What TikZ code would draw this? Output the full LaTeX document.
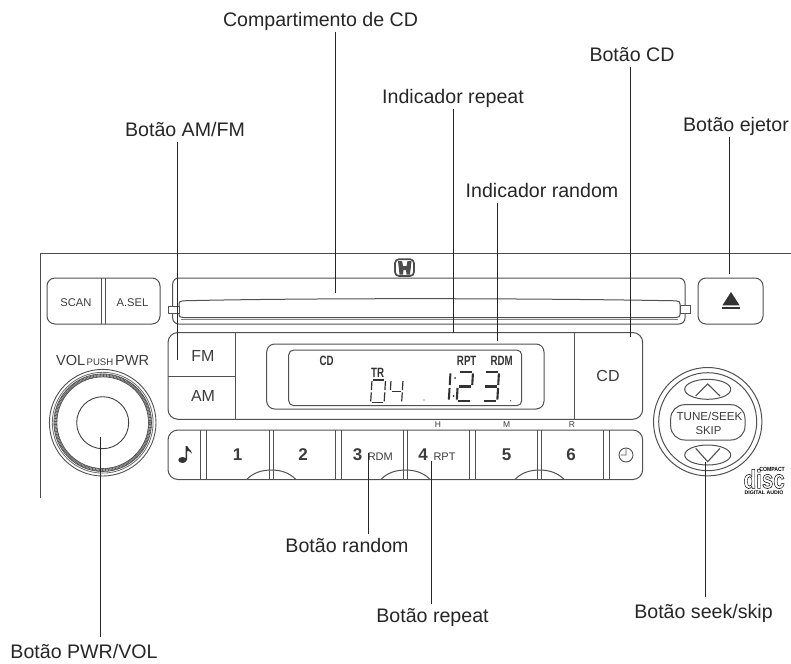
\documentclass[tikz,border=0pt]{standalone}
\usepackage{fontspec}
\setmainfont{Liberation Sans}
\newcommand{\fsz}[1]{\fontsize{#1}{#1}\selectfont}
\def\sgA{(.1,0)--(.9,0)}
\def\sgB{(1,.05)--(1,.45)}
\def\sgC{(1,.55)--(1,.95)}
\def\sgD{(.1,1)--(.9,1)}
\def\sgE{(0,.55)--(0,.95)}
\def\sgF{(0,.05)--(0,.45)}
\def\sgG{(.1,.5)--(.9,.5)}
\newcommand{\sevenseg}[6]{%
  \begin{scope}[shift={(#1,#2)},xslant=.06,xscale=#3,yscale=#4,line width=#5,color=lcd]
    \foreach \s in {#6}{\edef\tmpseg{\noexpand\draw \csname sg\s\endcsname;}\tmpseg}
  \end{scope}}
\definecolor{lcd}{HTML}{333333}
\definecolor{panelc}{HTML}{505050}
\definecolor{txtc}{HTML}{3C3C3C}
\definecolor{labc}{HTML}{262626}
\tikzset{
  panel/.style={draw=panelc,line width=1pt,fill=white},
  pline/.style={draw=panelc,line width=1pt},
  leader/.style={draw=black!85,line width=.95pt},
  toplab/.style={anchor=south,inner sep=0pt,text height=14pt,text depth=5pt,font=\fsz{19.6},text=labc},
  botlab/.style={anchor=north,inner sep=0pt,text height=18pt,text depth=5pt,font=\fsz{19.6},text=labc},
  ptxt/.style={inner sep=0pt,text=txtc},
  lcdtxt/.style={inner sep=0pt,text=lcd,font=\fsz{13.5}\bfseries,xscale=.72,transform shape},
  numb/.style={inner sep=0pt,text=txtc,font=\fsz{17}\bfseries},
}
\begin{document}
\begin{tikzpicture}[x=1pt,y=-1pt]
\useasboundingbox (0,0) rectangle (791,663);
% frame
\draw[draw=black!70,line width=.9pt] (791,253.5) -- (40,253.5) -- (40,498);
% scan / a.sel
\draw[panel,rounded corners=8] (47,278) rectangle (160,324);
\draw[pline] (101.7,278) -- (101.7,324) (105.3,278) -- (105.3,324);
\node[ptxt,font=\fsz{11.2}] (scan) at (76,302.5) {SCAN};
\node[ptxt,font=\fsz{11.2}] (asel) at (132.5,302.5) {A.SEL};
% CD slot
\draw[panel,rounded corners=6] (172.7,278) rectangle (685,324);
\draw[pline,fill=white] (183,300.8) .. controls (300,298) and (520,298) .. (676,300.8)
  .. controls (679,301) and (680,302) .. (680,304) -- (680,314.5)
  .. controls (680,316.5) and (679,317.5) .. (676,317.5) -- (183,317.5)
  .. controls (180,317.5) and (179,316.5) .. (179,314.5) -- (179,304)
  .. controls (179,302) and (180,301) .. (183,300.8) -- cycle;
\draw[draw=panelc!70,line width=.8pt] (181,319) -- (678,319);
\draw[panel] (168.3,306) rectangle (179,313);
\draw[panel] (680,305.5) rectangle (690.3,313);
% eject
\draw[panel,rounded corners=8] (698,278) rectangle (763,324);
\fill[black!80] (731,292) -- (739.6,305.4) -- (722.4,305.4) -- cycle;
\fill[black!80] (722.4,307) rectangle (739.6,308.8);
% honda
\draw[draw=black!70,line width=1.7pt,rounded corners=4] (395,259.2) rectangle (414,276);
\fill[black!70] (398,261) -- (402,261) -- (403,266) -- (406.5,266) -- (407.5,261) -- (411.5,261) -- (410,274.5) -- (406.5,274.5) -- (406,270) -- (403.5,270) -- (403,274.5) -- (399.5,274.5) -- cycle;
% FM/AM/CD block
\draw[panel,rounded corners=10] (168,332.5) rectangle (642.7,419.3);
\draw[pline] (235.7,332.5) -- (235.7,419.3) (168,376.7) -- (235.7,376.7) (574,332.5) -- (574,419.3);
\node[ptxt,font=\fsz{16}] (fm) at (203,356) {FM};
\node[ptxt,font=\fsz{16}] (am) at (203,395.7) {AM};
\node[ptxt,font=\fsz{16}] (cd) at (608,376) {CD};
% display
\draw[panel,rounded corners=8] (266.7,344) rectangle (544,409);
\draw[panel,rounded corners=5] (288.7,350) rectangle (521.7,405.7);
\node[lcdtxt] (d1) at (326.7,361) {CD};
\node[lcdtxt] (d2) at (377.7,372.7) {TR};
\node[lcdtxt] (d3) at (466.7,361) {RPT};
\node[lcdtxt] (d4) at (501.7,361) {RDM};
\sevenseg{372}{380}{13.5}{22.5}{1.2pt}{A,B,C,D,E,F}
\sevenseg{391}{380}{12}{22.5}{1.2pt}{B,C,F,G}
\sevenseg{447.5}{372}{3}{29}{2pt}{B,C}
\fill[lcd] (455,378) circle (1) (453.5,396) circle (1) (424,400) circle (.6) (510.7,400.7) circle (.6);
\sevenseg{458.5}{372}{14.5}{29}{2.1pt}{A,B,G,E,D}
\sevenseg{484}{372}{15}{29}{2.1pt}{A,B,G,C,D}
% presets
\node[ptxt,font=\fsz{8.5}] (h) at (438,424.3) {H};
\node[ptxt,font=\fsz{8.5}] (m) at (506.7,424.3) {M};
\node[ptxt,font=\fsz{8.5}] (r) at (572,424.3) {R};
\draw[panel,rounded corners=10] (168,430) rectangle (642.7,479.5);
\foreach \a/\b in {200.7/206.7,269.3/273.3,335/341.3,403.3/407.7,469.3/475.3,537.3/541.7,603.3/609.3}
  \draw[pline] (\a,430) -- (\a,479.5) (\b,430) -- (\b,479.5);
\foreach \c in {271.3,405.5,539.5}
  \draw[pline] (\c-24.6,479.5) .. controls (\c-18,472.5) and (\c-9,470) .. (\c,470)
     .. controls (\c+9,470) and (\c+18,472.5) .. (\c+24.6,479.5);
\fill[black!80] (182.5,460) ellipse (4.2 and 3);
\fill[black!80] (185.6,460) -- (185.6,446) -- (187.2,446) .. controls (187.5,449) and (191,449) .. (192,453.5) .. controls (190,451) and (188.5,451) .. (187.2,451) -- (187.2,460) -- cycle;
\node[numb] (n1) at (237.7,454.7) {1};
\node[numb] (n2) at (303,454.7) {2};
\node[numb] (n3) at (357.7,454.7) {3};
\node[numb] (n4) at (423,454.7) {4};
\node[numb] (n5) at (506.7,454.7) {5};
\node[numb] (n6) at (571,454.7) {6};
\node[ptxt,font=\fsz{11}] (trdm) at (380.3,456.7) {RDM};
\node[ptxt,font=\fsz{11}] (trpt) at (444.5,456.7) {RPT};
\draw[draw=panelc,line width=.9pt] (626,455) circle (7) (626,449) -- (626,455) -- (620.5,455);
% volume knob
\node[ptxt,font=\fsz{14.6},anchor=base east] (vol) at (85.5,365.5) {VOL};
\node[ptxt,font=\fsz{9.6},anchor=base] (push) at (100,365.5) {PUSH};
\node[ptxt,font=\fsz{14.6},anchor=base west] (pwr) at (115,365.5) {PWR};
\coordinate (kn) at (102.7,422.7);
\draw[draw=panelc,line width=.9pt] (kn) circle (53.3);
\draw[draw=panelc!85,line width=.8pt] (kn) circle (50.4);
\draw[draw=black!65,line width=3.2pt,dash pattern=on .9pt off .55pt] (kn) circle (47.3);
\draw[draw=panelc,line width=.6pt] (kn) circle (48.8) (kn) circle (45.8);
\draw[draw=black!75,line width=.9pt] (kn) circle (26);
% seek knob
\coordinate (sk) at (707.7,421.7);
\draw[draw=panelc,line width=1pt] (sk) circle (54.2) (sk) circle (49);
\draw[panel,rounded corners=14] (670.7,404.7) rectangle (745,440);
\node[ptxt,font=\fsz{11.6}] (tune) at (709.5,416.8) {TUNE/SEEK};
\node[ptxt,font=\fsz{11.4}] (skip) at (708.5,431) {SKIP};
\draw[panel] (707.7,389.3) ellipse (23 and 10);
\draw[panel] (707.7,455) ellipse (23 and 10);
\draw[draw=panelc,line width=1.1pt] (695.7,396) -- (707.7,384) -- (720,396);
\draw[draw=panelc,line width=1.1pt] (695.7,448.3) -- (707.7,461.7) -- (720,448.3);
% CD logo
\node[inner sep=0pt,anchor=base east,font=\fsz{6}\bfseries,xscale=.85,transform shape,text=black] (cdc) at (785,471.3) {COMPACT};
\node[inner sep=0pt,anchor=base west,font=\fsz{26}\bfseries,xscale=.79,transform shape,text=black] (cdd) at (743.5,488.3) {\special{pdf:code 1 Tr 0.55 w}disc\special{pdf:code 0 Tr 1 w}};
\node[inner sep=0pt,anchor=base,font=\fsz{5.2}\bfseries,text=black] (cda) at (764,494) {DIGITAL AUDIO};
% labels
\node[toplab] (lcomp) at (320.5,32) {Compartimento de CD};
\node[toplab] (lcdb) at (632,67) {Botão CD};
\node[toplab] (lrep) at (453,109) {Indicador repeat};
\node[toplab] (lam) at (185,142) {Botão AM/FM};
\node[toplab] (lej) at (736,137) {Botão ejetor};
\node[toplab] (lrnd) at (542,203) {Indicador random};
\node[botlab] (brnd) at (347,534) {Botão random};
\node[botlab] (brep) at (432.5,604) {Botão repeat};
\node[botlab] (bskp) at (703.5,600) {Botão seek/skip};
\node[botlab] (bpwr) at (84,640) {Botão PWR/VOL};
% leader ends
\coordinate (e1) at (335,293);
\coordinate (e2) at (630.5,336.7);
\coordinate (e3) at (453.3,332.7);
\coordinate (e4) at (177.7,360);
\coordinate (e5) at (729,274.3);
\coordinate (e6) at (497.7,340.7);
\coordinate (e7) at (368.8,453.3);
\coordinate (e8) at (431.8,461);
\coordinate (e9) at (705.2,461.7);
\coordinate (e10) at (100.3,437.3);
\draw[leader] (lcomp.south -| e1) -- (e1);
\draw[leader] (lcdb.south -| e2) -- (e2);
\draw[leader] (lrep.south -| e3) -- (e3);
\draw[leader] (lam.south -| e4) -- (e4);
\draw[leader] (lej.south -| e5) -- (e5);
\draw[leader] (lrnd.south -| e6) -- (e6);
\draw[leader] (e7) -- (brnd.north -| e7);
\draw[leader] (e8) -- (brep.north -| e8);
\draw[leader,shorten >=3pt] (e9) -- (bskp.north -| e9);
\draw[leader,shorten >=3pt] (e10) -- (bpwr.north -| e10);
\end{tikzpicture}
\end{document}
